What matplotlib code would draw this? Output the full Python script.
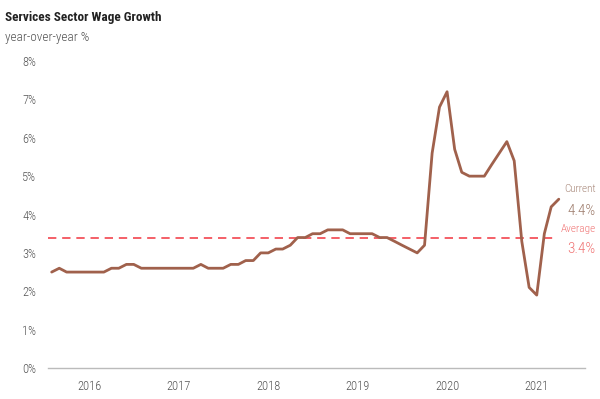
import matplotlib
matplotlib.use("Agg")
import matplotlib.pyplot as plt
import pandas as pd

# monthly year-over-year wage growth, %, Aug 2015 - Apr 2021
wage = [2.5, 2.6, 2.5, 2.5, 2.5,
        2.5, 2.5, 2.5, 2.6, 2.6, 2.7, 2.7, 2.6, 2.6, 2.6, 2.6, 2.6,
        2.6, 2.6, 2.6, 2.7, 2.6, 2.6, 2.6, 2.7, 2.7, 2.8, 2.8, 3.0,
        3.0, 3.1, 3.1, 3.2, 3.4, 3.4, 3.5, 3.5, 3.6, 3.6, 3.6, 3.5,
        3.5, 3.5, 3.5, 3.4, 3.4, 3.3, 3.2, 3.1, 3.0, 3.2, 5.6, 6.8,
        7.2, 5.7, 5.1, 5.0, 5.0, 5.0, 5.3, 5.6, 5.9, 5.4, 3.3, 2.1,
        1.9, 3.5, 4.2, 4.4]
dates = pd.date_range("2015-08-01", periods=len(wage), freq="MS")
years = [2016, 2017, 2018, 2019, 2020, 2021]
average = 3.4
current = wage[-1]

line_color = "#a0614c"
avg_color = "#f2444e"
text_gray = "#555555"

plt.rcParams["font.family"] = ["Roboto Condensed", "Liberation Sans Narrow",
                               "Roboto", "DejaVu Sans"]

fig = plt.figure(figsize=(6, 3.99), dpi=100)
ax = fig.add_axes([0.08, 0.0777, 0.895, 0.7693])

ax.plot(dates, wage, color=line_color, linewidth=2.0, solid_joinstyle="round",
        solid_capstyle="round", zorder=3)
ax.axhline(average, xmin=0, xmax=0.94, color=avg_color, linewidth=1.2,
           dashes=(5, 3.5), zorder=2)

ax.set_ylim(0, 8)
ax.set_yticks(range(0, 9))
ax.set_yticklabels([f"{v}%" for v in range(0, 9)])
ax.set_xlim(pd.Timestamp("2015-07-17"), pd.Timestamp("2021-07-17"))
ax.set_xticks([pd.Timestamp(f"{y}-01-01") for y in years])
ax.set_xticklabels([str(y) for y in years])

for s in ["top", "right", "left"]:
    ax.spines[s].set_visible(False)
ax.spines["bottom"].set_color("#bbbbbb")
ax.spines["bottom"].set_linewidth(1.0)
ax.tick_params(axis="both", length=0, labelcolor=text_gray, labelsize=9)
ax.tick_params(axis="x", pad=9)
ax.tick_params(axis="y", pad=8.5)
for lbl in ax.get_xticklabels() + ax.get_yticklabels():
    lbl.set_fontweight("light")

fig.text(0.008, 0.957, "Services Sector Wage Growth", fontsize=9.5,
         fontweight="bold", color="#222222", va="center")
fig.text(0.008, 0.905, "year-over-year %", fontsize=9.5, color=text_gray,
         fontweight="light", va="center")

tr = ax.get_yaxis_transform()
ax.text(1.02, 4.67, "Current", transform=tr, ha="right", va="center",
        fontsize=8, color="#a8887a", fontweight="light")
ax.text(1.02, 4.09, f"{current}%", transform=tr, ha="right", va="center",
        fontsize=11, color="#9c7a6a", fontweight="light")
ax.text(1.02, 3.63, "Average", transform=tr, ha="right", va="center",
        fontsize=8, color="#f07474", fontweight="light")
ax.text(1.02, 3.1, f"{average}%", transform=tr, ha="right", va="center",
        fontsize=11, color="#f07474", fontweight="light")

fig.savefig("out.png", dpi=100)
